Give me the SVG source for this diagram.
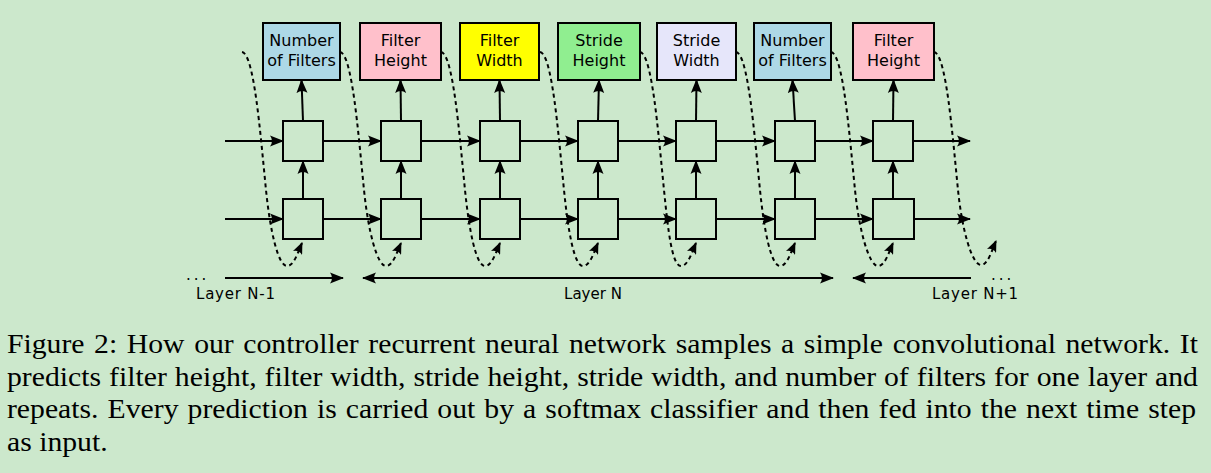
<svg xmlns="http://www.w3.org/2000/svg" width="1211" height="473" viewBox="0 0 1211 473">
<defs>
<style>
.bg{fill:#cce8cc}
.cell{fill:#cce8cc;stroke:#000;stroke-width:2}
.out{stroke:#000;stroke-width:2}
.lbl{font-family:"DejaVu Sans",sans-serif;font-size:16px;fill:#000;text-anchor:middle}
.lay{font-family:"DejaVu Sans",sans-serif;font-size:15px;fill:#000}
.cap{font-family:"Liberation Serif","Times New Roman",serif;font-size:27px;fill:#000}
.ln{fill:none;stroke:#000;stroke-width:2;marker-end:url(#ah)}
.dl{fill:none;stroke:#000;stroke-width:2;stroke-dasharray:4,3.5;marker-end:url(#sah)}
</style>
<marker id="ah" markerUnits="userSpaceOnUse" viewBox="0 0 14 12" markerWidth="14" markerHeight="12" refX="13" refY="6" orient="auto-start-reverse">
<path d="M0,0.5 L14,6 L0,11.5 Q4,6 0,0.5 Z" fill="#000" stroke="none"/>
</marker>
<marker id="sah" markerUnits="userSpaceOnUse" viewBox="0 0 12 10" markerWidth="12" markerHeight="10" refX="11" refY="5" orient="auto">
<path d="M0,0 L12,5 L0,10 Q3.5,5 0,0 Z" fill="#000" stroke="none"/>
</marker>
</defs>
<rect class="bg" x="0" y="0" width="1211" height="473"/>

<g id="outputs">
<g id="out1"><rect class="out" x="263" y="23" width="77" height="57" fill="#add8e6"/><text class="lbl" x="301.5" y="46">Number</text><text class="lbl" x="301.5" y="66">of Filters</text></g>
<g id="out2"><rect class="out" x="360" y="23" width="81" height="57" fill="#ffc0cb"/><text class="lbl" x="400.5" y="46">Filter</text><text class="lbl" x="400.5" y="66">Height</text></g>
<g id="out3"><rect class="out" x="460" y="23" width="79" height="57" fill="#ffff00"/><text class="lbl" x="499.5" y="46">Filter</text><text class="lbl" x="499.5" y="66">Width</text></g>
<g id="out4"><rect class="out" x="558" y="23" width="82" height="57" fill="#90ee90"/><text class="lbl" x="599" y="46">Stride</text><text class="lbl" x="599" y="66">Height</text></g>
<g id="out5"><rect class="out" x="657" y="23" width="79" height="57" fill="#e6e6fa"/><text class="lbl" x="696.5" y="46">Stride</text><text class="lbl" x="696.5" y="66">Width</text></g>
<g id="out6"><rect class="out" x="754" y="23" width="77" height="57" fill="#add8e6"/><text class="lbl" x="792.5" y="46">Number</text><text class="lbl" x="792.5" y="66">of Filters</text></g>
<g id="out7"><rect class="out" x="853" y="23" width="81" height="57" fill="#ffc0cb"/><text class="lbl" x="893.5" y="46">Filter</text><text class="lbl" x="893.5" y="66">Height</text></g>
</g>

<g id="cells">
<g id="u1"><rect class="cell" x="283" y="121" width="40" height="40"/></g>
<g id="u2"><rect class="cell" x="381" y="121" width="40" height="40"/></g>
<g id="u3"><rect class="cell" x="480" y="121" width="40" height="40"/></g>
<g id="u4"><rect class="cell" x="578" y="121" width="40" height="40"/></g>
<g id="u5"><rect class="cell" x="676" y="121" width="40" height="40"/></g>
<g id="u6"><rect class="cell" x="775" y="121" width="40" height="40"/></g>
<g id="u7"><rect class="cell" x="873" y="121" width="40" height="40"/></g>
<g id="l1"><rect class="cell" x="283" y="199" width="40" height="40"/></g>
<g id="l2"><rect class="cell" x="381" y="199" width="40" height="40"/></g>
<g id="l3"><rect class="cell" x="480" y="199" width="40" height="40"/></g>
<g id="l4"><rect class="cell" x="578" y="199" width="40" height="40"/></g>
<g id="l5"><rect class="cell" x="676" y="199" width="40" height="40"/></g>
<g id="l6"><rect class="cell" x="775" y="199" width="40" height="40"/></g>
<g id="l7"><rect class="cell" x="873" y="199" width="41" height="40"/></g>
</g>

<g id="connectors">
<path class="ln" d="M225,141 H283"/><path class="ln" d="M323,141 H381"/><path class="ln" d="M421,141 H480"/><path class="ln" d="M520,141 H578"/><path class="ln" d="M618,141 H676"/><path class="ln" d="M716,141 H775"/><path class="ln" d="M815,141 H873"/><path class="ln" d="M913,141 H970"/>
<path class="ln" d="M225,219 H283"/><path class="ln" d="M323,219 H381"/><path class="ln" d="M421,219 H480"/><path class="ln" d="M520,219 H578"/><path class="ln" d="M618,219 H676"/><path class="ln" d="M716,219 H775"/><path class="ln" d="M815,219 H873"/><path class="ln" d="M914,219 H970"/>
<path class="ln" d="M303,199 V161"/><path class="ln" d="M401,199 V161"/><path class="ln" d="M500,199 V161"/><path class="ln" d="M598,199 V161"/><path class="ln" d="M696,199 V161"/><path class="ln" d="M795,199 V161"/><path class="ln" d="M893,199 V161"/>
<path class="ln" d="M303,121 L301.5,80"/><path class="ln" d="M401,121 L400.5,80"/><path class="ln" d="M500,121 L499.5,80"/><path class="ln" d="M598,121 L599,80"/><path class="ln" d="M696,121 L696.5,80"/><path class="ln" d="M795,121 L792.5,80"/><path class="ln" d="M893,121 L893.5,80"/>
<path class="dl" d="M242,52 C254,54 260,130 266,190 C270,230 278,266 287,266 C294,266 298,252 302,243"/>
<path class="dl" d="M340,52 C352,54 358,130 364,190 C368,230 377,266 386,266 C393,266 397,252 401,243"/>
<path class="dl" d="M441,52 C453,54 459,130 465,190 C469,230 476,266 485,266 C492,266 496,252 500,243"/>
<path class="dl" d="M540,52 C552,54 558,130 564,190 C568,230 574,266 583,266 C590,266 594,252 598,243"/>
<path class="dl" d="M640,52 C652,54 658,130 664,190 C668,230 672,266 681,266 C688,266 692,252 696,243"/>
<path class="dl" d="M736,52 C748,54 754,130 760,190 C764,230 771,266 780,266 C787,266 791,252 795,243"/>
<path class="dl" d="M831,52 C843,54 849,130 855,190 C859,230 869,266 878,266 C885,266 889,252 893,243"/>
<path class="dl" d="M934,52 C946,54 952,130 958,190 C962,230 972,265 981,265 C988,265 992,250 996,241"/>
<path class="ln" d="M225,278 H343"/>
<path class="ln" d="M363,278 H833" marker-start="url(#ah)"/>
<path class="ln" d="M971,278 H853"/>
</g>

<g id="layers">
<text class="lay" x="186" y="280" letter-spacing="3">...</text>
<text class="lay" x="991" y="280" letter-spacing="3">...</text>
<text class="lay" x="196" y="299" textLength="79" lengthAdjust="spacing">Layer N-1</text>
<text class="lay" x="564" y="299" textLength="58" lengthAdjust="spacing">Layer N</text>
<text class="lay" x="932" y="299" textLength="86" lengthAdjust="spacing">Layer N+1</text>
</g>

<g id="caption" transform="scale(1.1,1)">
<text class="cap" x="6.36" y="353" word-spacing="2" textLength="1082.7" lengthAdjust="spacing">Figure 2: How our controller recurrent neural network samples a simple convolutional network. It</text>
<text class="cap" x="6.36" y="386" word-spacing="0.5" textLength="1082.7" lengthAdjust="spacing">predicts filter height, filter width, stride height, stride width, and number of filters for one layer and</text>
<text class="cap" x="6.36" y="418.5" word-spacing="1.5" textLength="1080.9" lengthAdjust="spacing">repeats. Every prediction is carried out by a softmax classifier and then fed into the next time step</text>
<text class="cap" x="6.36" y="451">as input.</text>
</g>
</svg>
